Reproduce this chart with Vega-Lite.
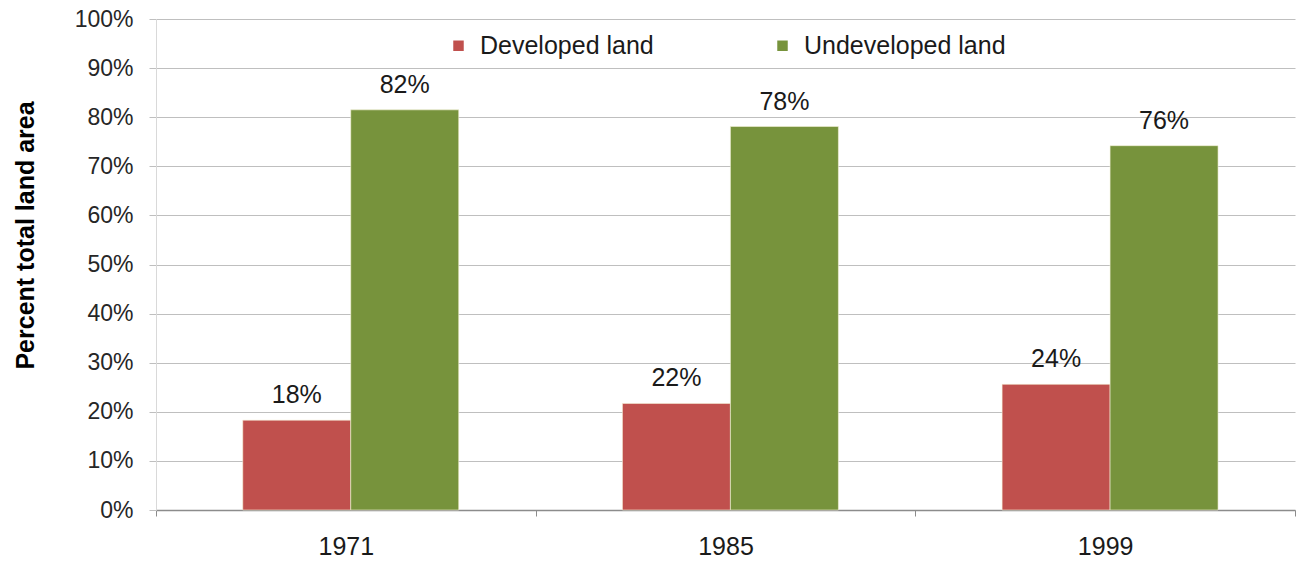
{
  "$schema": "https://vega.github.io/schema/vega-lite/v6.json",
  "width": 1139,
  "height": 491,
  "autosize": "none",
  "padding": {"left": 156, "top": 19, "right": 4, "bottom": 56},
  "background": "white",
  "config": {
    "font": "Liberation Sans",
    "view": {"stroke": null},
    "axis": {"labelFont": "Liberation Sans", "titleFont": "Liberation Sans"}
  },
  "data": {
    "values": [
      {"year": "1971", "land": "Developed land", "value": 18.3, "label": "18%"},
      {"year": "1971", "land": "Undeveloped land", "value": 81.5, "label": "82%"},
      {"year": "1985", "land": "Developed land", "value": 21.7, "label": "22%"},
      {"year": "1985", "land": "Undeveloped land", "value": 78.1, "label": "78%"},
      {"year": "1999", "land": "Developed land", "value": 25.6, "label": "24%"},
      {"year": "1999", "land": "Undeveloped land", "value": 74.2, "label": "76%"}
    ]
  },
  "encoding": {
    "x": {
      "field": "year",
      "type": "nominal",
      "scale": {"paddingInner": 0, "paddingOuter": 0},
      "axis": {
        "title": null,
        "labelAngle": 0,
        "labelFontSize": 25,
        "labelColor": "#1a1a1a",
        "labelPadding": 18,
        "domainColor": "#8c8c8c",
        "domainWidth": 1.5,
        "tickColor": "#8c8c8c",
        "tickSize": 6,
        "tickBand": "extent",
        "grid": false
      }
    },
    "xOffset": {"field": "land", "type": "nominal", "scale": {"paddingInner": 0, "paddingOuter": 0.758, "align": 0.53}},
    "y": {
      "field": "value",
      "type": "quantitative",
      "scale": {"domain": [0, 100], "nice": false},
      "axis": {
        "title": "Percent total land area",
        "titleFontSize": 25,
        "titleFontWeight": "bold",
        "titleColor": "#000000",
        "titleAngle": -90,
        "titleX": -131,
        "titleY": 216,
        "titleAlign": "center",
        "titleBaseline": "middle",
        "values": [0, 10, 20, 30, 40, 50, 60, 70, 80, 90, 100],
        "labelExpr": "datum.value + '%'",
        "labelFontSize": 23,
        "labelColor": "#262626",
        "labelPadding": 16,
        "tickSize": 7,
        "tickColor": "#bfbfbf",
        "domainColor": "#d9d9d9",
        "grid": true,
        "gridColor": "#bfbfbf",
        "gridWidth": 1.2
      }
    }
  },
  "layer": [
    {
      "mark": {"type": "bar", "stroke": "#f5f2d8", "strokeWidth": 0.6},
      "encoding": {
        "color": {
          "field": "land",
          "type": "nominal",
          "scale": {"domain": ["Developed land", "Undeveloped land"], "range": ["#C0504D", "#77933C"]},
          "legend": {
            "title": null,
            "orient": "none",
            "direction": "horizontal",
            "legendX": 290,
            "legendY": 14,
            "padding": 0,
            "symbolType": "square",
            "symbolSize": 110,
            "symbolStrokeWidth": 0,
            "labelFontSize": 25,
            "labelLimit": 0,
            "labelColor": "#1a1a1a",
            "labelOffset": 9,
            "columnPadding": 116
          }
        }
      }
    },
    {
      "mark": {"type": "text", "baseline": "alphabetic", "dy": -17, "fontSize": 25, "color": "#1a1a1a", "font": "Liberation Sans"},
      "encoding": {"text": {"field": "label"}}
    }
  ]
}
